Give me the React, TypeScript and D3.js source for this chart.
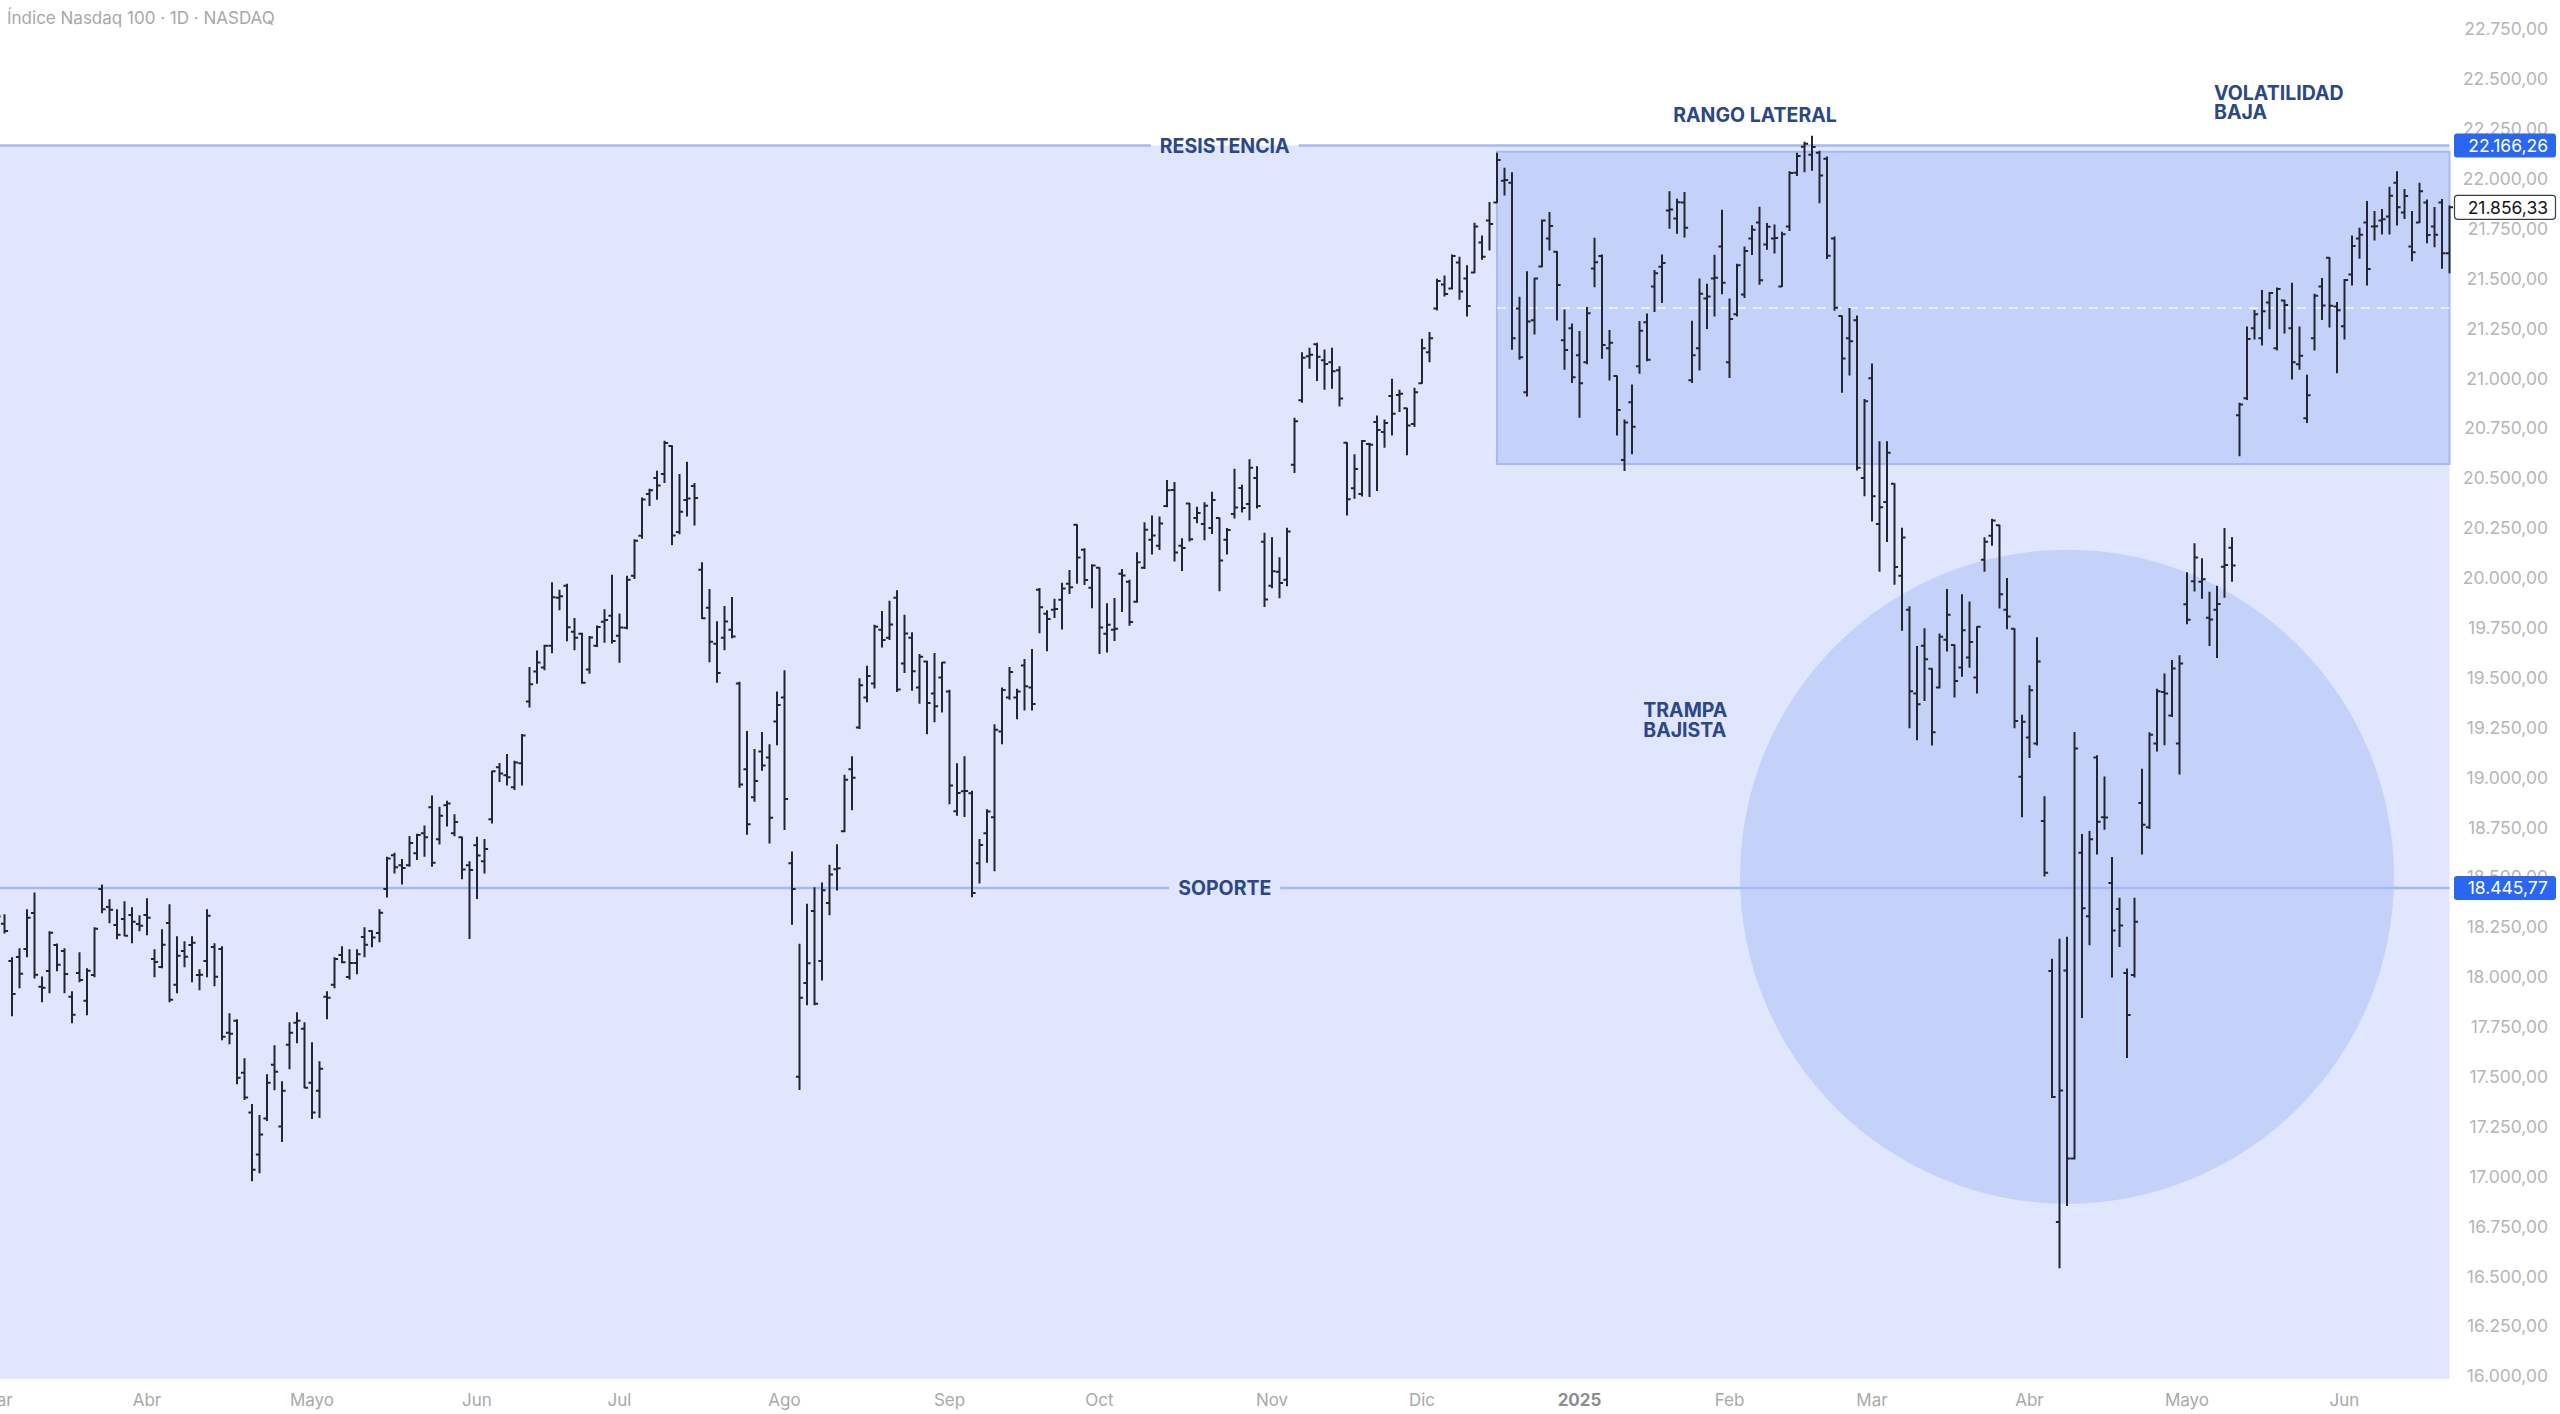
import React, { useMemo } from 'react';
import * as d3 from 'd3';

// ---------- data (daily OHLC, Índice Nasdaq 100) ----------
const title = 'Índice Nasdaq 100 · 1D · NASDAQ';

const mar24 = [
  [18050, 18310, 18010, 18302], [18266, 18311, 18220, 18230], [18080, 18096, 17805, 17914], [18100, 18141, 17945, 18016],
  [18140, 18336, 18101, 18296], [18320, 18421, 17995, 18011], [17950, 17999, 17875, 17945], [18030, 18226, 17920, 18221],
  [18160, 18165, 18031, 18061], [18130, 18141, 17920, 18015], [17900, 17925, 17770, 17810], [18020, 18121, 17976, 17985],
  [17880, 18041, 17810, 18031], [18010, 18246, 18001, 18241], [18440, 18461, 18321, 18339], [18350, 18386, 18271, 18336],
  [18260, 18336, 18191, 18211], [18290, 18376, 18206, 18206], [18310, 18346, 18171, 18276], [18265, 18306, 18231, 18256],
];
const apr24 = [
  [18310, 18391, 18211, 18296], [18090, 18136, 18001, 18075], [18050, 18236, 18046, 18161], [18270, 18361, 17875, 17885],
  [17960, 18201, 17920, 18106], [18130, 18176, 18051, 18101], [18160, 18201, 17976, 18171], [18010, 18036, 17935, 18011],
  [18080, 18336, 18001, 18306], [18150, 18166, 17955, 18001], [18140, 18151, 17685, 17700], [17720, 17815, 17665, 17715],
  [17780, 17785, 17465, 17495], [17520, 17590, 17385, 17395], [17320, 17360, 16978, 17034], [17110, 17305, 17019, 17210],
  [17290, 17510, 17280, 17470], [17560, 17655, 17435, 17525], [17250, 17475, 17175, 17430], [17660, 17770, 17540, 17720],
  [17770, 17820, 17670, 17780], [17740, 17770, 17445, 17445],
];
const may24 = [
  [17470, 17670, 17290, 17320], [17430, 17575, 17295, 17540], [17900, 17925, 17790, 17895], [17960, 18096, 17945, 18090],
  [18110, 18151, 18071, 18073], [18000, 18136, 17990, 18070], [18070, 18136, 18016, 18113], [18200, 18246, 18101, 18161],
  [18230, 18231, 18151, 18197], [18220, 18336, 18176, 18321], [18440, 18600, 18400, 18593], [18610, 18620, 18520, 18549],
  [18560, 18588, 18465, 18546], [18560, 18704, 18554, 18671], [18620, 18715, 18588, 18711], [18720, 18756, 18604, 18700],
  [18850, 18906, 18554, 18572], [18690, 18850, 18666, 18808], [18860, 18880, 18756, 18869], [18720, 18812, 18707, 18776],
  [18700, 18700, 18492, 18538], [18560, 18577, 18192, 18536],
];
const jun24 = [
  [18660, 18700, 18393, 18608], [18580, 18689, 18521, 18641], [18790, 19031, 18771, 19031], [19050, 19069, 18979, 19019],
  [19010, 19114, 18961, 19000], [18950, 19080, 18939, 19074], [19070, 19215, 18961, 19210], [19380, 19550, 19353, 19466],
  [19530, 19633, 19471, 19576], [19550, 19662, 19539, 19659], [19660, 19975, 19624, 19903], [19900, 19937, 19840, 19908],
  [19960, 19968, 19684, 19752], [19730, 19796, 19639, 19700], [19720, 19722, 19471, 19474], [19540, 19706, 19521, 19701],
  [19660, 19758, 19655, 19753], [19780, 19840, 19677, 19789], [19810, 20013, 19673, 19683],
];
const jul24 = [
  [19710, 19818, 19577, 19751], [19750, 20008, 19744, 19990], [20010, 20190, 19997, 20186], [20210, 20400, 20198, 20392],
  [20420, 20444, 20362, 20439], [20500, 20534, 20393, 20462], [20520, 20684, 20478, 20676], [20660, 20661, 20165, 20212],
  [20230, 20518, 20221, 20331], [20390, 20579, 20310, 20397], [20460, 20473, 20265, 20400], [20040, 20075, 19796, 19797],
  [19850, 19941, 19579, 19680], [19670, 19780, 19476, 19523], [19700, 19856, 19639, 19781], [19740, 19901, 19700, 19706],
  [19470, 19476, 18950, 18964], [19040, 19230, 18715, 18765], [18900, 19140, 18880, 18981], [19130, 19225, 19035, 19059],
  [19100, 19163, 18671, 18797], [19280, 19427, 19163, 19362],
];
const aug24 = [
  [19400, 19534, 18738, 18892], [18570, 18626, 18264, 18440], [17500, 18163, 17436, 17895], [17970, 18364, 17861, 18068],
  [18330, 18447, 17861, 17866], [18080, 18470, 17985, 18434], [18370, 18560, 18311, 18513], [18540, 18662, 18436, 18544],
  [18730, 19011, 18727, 18988], [19040, 19103, 18838, 18998], [19250, 19494, 19245, 19461], [19400, 19557, 19379, 19508],
  [19470, 19762, 19448, 19754], [19740, 19831, 19653, 19688], [19700, 19883, 19691, 19766], [19900, 19935, 19430, 19440],
  [19570, 19812, 19525, 19721], [19700, 19724, 19436, 19531], [19450, 19615, 19371, 19604], [19580, 19582, 19218, 19373],
  [19420, 19620, 19279, 19356], [19500, 19576, 19327, 19575],
];
const sep24 = [
  [19430, 19436, 18867, 18959], [18830, 19068, 18810, 18921], [18930, 19103, 18804, 18931], [18920, 18930, 18401, 18421],
  [18570, 18689, 18470, 18661], [18720, 18838, 18574, 18829], [18800, 19264, 18532, 19239], [19230, 19448, 19168, 19438],
  [19400, 19551, 19391, 19528], [19400, 19442, 19294, 19430], [19560, 19590, 19337, 19457], [19450, 19640, 19337, 19367],
  [19940, 19946, 19724, 19852], [19820, 19835, 19634, 19794], [19840, 19893, 19801, 19844], [19890, 19973, 19743, 19946],
  [19970, 20036, 19921, 19952], [20266, 20266, 19973, 20101], [20140, 20146, 19966, 19989], [19950, 20065, 19850, 20061],
];
const oct24 = [
  [20050, 20050, 19620, 19751], [19720, 19870, 19628, 19765], [19740, 19896, 19686, 19745], [20020, 20042, 19831, 20011],
  [19980, 19988, 19762, 19778], [19880, 20126, 19877, 20078], [20050, 20276, 20046, 20241], [20190, 20310, 20119, 20212],
  [20160, 20305, 20142, 20272], [20360, 20487, 20356, 20439], [20440, 20477, 20084, 20127], [20160, 20195, 20036, 20149],
  [20372, 20372, 20184, 20193], [20300, 20353, 20276, 20324], [20270, 20376, 20190, 20361], [20250, 20429, 20222, 20390],
  [20299, 20299, 19935, 20087], [20190, 20247, 20119, 20240], [20320, 20544, 20300, 20352], [20450, 20464, 20330, 20350],
  [20370, 20592, 20291, 20551], [20500, 20557, 20350, 20360], [20180, 20223, 19856, 19891],
];
const nov24 = [
  [19960, 20200, 19950, 20033], [20030, 20100, 19900, 19974], [19990, 20248, 19960, 20232], [20566, 20799, 20527, 20785],
  [20890, 21128, 20880, 21102], [21110, 21150, 21050, 21118], [21170, 21175, 20988, 21107], [21090, 21142, 20945, 21071],
  [21080, 21150, 20950, 21035], [21040, 21058, 20861, 20898], [20677, 20677, 20315, 20394], [20449, 20616, 20399, 20545],
  [20420, 20688, 20410, 20686], [20670, 20674, 20407, 20667], [20780, 20811, 20437, 20740], [20730, 20791, 20654, 20776],
  [20911, 20995, 20716, 20822], [20916, 20940, 20833, 20922], [20850, 20850, 20616, 20763], [20770, 20950, 20758, 20930],
];
const dec24 = [
  [20975, 21195, 20975, 21150], [21130, 21229, 21083, 21200], [21350, 21496, 21342, 21487], [21470, 21512, 21412, 21422],
  [21450, 21618, 21447, 21613], [21580, 21606, 21396, 21434], [21500, 21563, 21312, 21362], [21530, 21776, 21529, 21760],
  [21680, 21713, 21596, 21609], [21790, 21880, 21643, 21773], [21880, 22127, 21880, 22094], [21990, 22052, 21918, 21993],
  [21980, 22030, 21145, 21200], [21350, 21406, 21095, 21105], [20930, 21534, 20911, 21284], [21290, 21501, 21222, 21500],
  [21560, 21793, 21559, 21790], [21700, 21830, 21643, 21763], [21634, 21634, 21292, 21467], [21190, 21342, 21045, 21141],
  [21250, 21272, 20978, 21005],
];
const jan25 = [
  [21115, 21234, 20805, 20975], [21080, 21355, 21072, 21325], [21550, 21701, 21459, 21581], [21612, 21618, 21100, 21167],
  [21150, 21239, 20991, 21178], [21011, 21011, 20716, 20841], [20590, 20791, 20537, 20778], [20880, 20966, 20621, 20757],
  [21060, 21284, 21025, 21238], [21280, 21322, 21088, 21092], [21460, 21540, 21334, 21526], [21559, 21618, 21379, 21577],
  [21840, 21935, 21751, 21846], [21800, 21897, 21726, 21882], [21880, 21931, 21708, 21754], [20990, 21286, 20978, 21115],
  [21150, 21497, 21041, 21423], [21400, 21471, 21249, 21410], [21500, 21616, 21312, 21503], [21660, 21842, 21423, 21478],
];
const feb25 = [
  [21080, 21397, 21004, 21297], [21320, 21571, 21312, 21566], [21420, 21657, 21405, 21637], [21700, 21764, 21620, 21744],
  [21780, 21857, 21471, 21491], [21670, 21775, 21646, 21759], [21700, 21768, 21627, 21703], [21460, 21731, 21460, 21721],
  [21760, 22035, 21740, 22029], [22030, 22127, 22016, 22114], [22160, 22183, 22035, 22175], [22120, 22212, 22042, 22159],
  [22130, 22138, 21879, 22016], [22100, 22109, 21600, 21614], [21700, 21708, 21340, 21353], [21312, 21312, 20930, 21099],
  [21200, 21349, 21016, 21185], [21290, 21312, 20540, 20551], [20500, 20893, 20411, 20884],
];
const mar25 = [
  [21000, 21071, 20285, 20408], [20270, 20682, 20033, 20354], [20380, 20682, 20182, 20627], [20471, 20471, 19967, 20054],
  [20010, 20248, 19737, 20202], [19840, 19855, 19248, 19431], [19420, 19655, 19188, 19366], [19660, 19744, 19385, 19592],
  [19544, 19544, 19162, 19226], [19450, 19718, 19448, 19705], [19690, 19941, 19633, 19815], [19663, 19663, 19403, 19483],
  [19550, 19915, 19507, 19737], [19600, 19878, 19552, 19678], [19500, 19755, 19422, 19754], [20090, 20200, 20033, 20180],
  [20210, 20293, 20163, 20287], [20263, 20263, 19848, 19917], [19840, 19996, 19744, 19806], [19744, 19744, 19248, 19282],
  [19003, 19311, 18803, 19279],
];
const apr25 = [
  [19200, 19459, 19099, 19436], [19170, 19700, 19162, 19581], [18781, 18903, 18506, 18522], [18030, 18088, 17395, 17398],
  [16772, 18188, 16542, 17431], [18032, 18199, 16854, 17090], [17090, 19225, 17087, 19145], [18622, 18713, 17797, 18344],
  [18304, 18729, 18161, 18690], [19100, 19108, 18616, 18778], [18800, 19002, 18740, 18799], [18470, 18598, 17999, 18233],
  [18340, 18394, 18152, 18258], [18020, 18039, 17596, 17809], [18010, 18394, 17999, 18276], [18871, 19041, 18616, 18762],
  [18750, 19223, 18744, 19214], [19170, 19442, 19132, 19432], [19427, 19518, 19163, 19420], [19310, 19585, 19305, 19546],
  [19169, 19609, 19017, 19571],
];
const may25 = [
  [19867, 20025, 19770, 19790], [19982, 20171, 19934, 20102], [19980, 20095, 19897, 19992], [19800, 19928, 19661, 19791],
  [19840, 19958, 19600, 19868], [20055, 20247, 19903, 20064], [20150, 20201, 19982, 20061], [20814, 20875, 20611, 20868],
  [20900, 21257, 20893, 21196], [21250, 21339, 21197, 21320], [21200, 21440, 21166, 21335], [21380, 21430, 21248, 21427],
  [21150, 21452, 21142, 21447], [21390, 21391, 21227, 21367], [21250, 21476, 20996, 21080], [21070, 21257, 21045, 21112],
  [20800, 21015, 20778, 20915], [21200, 21421, 21142, 21413], [21460, 21500, 21294, 21364], [21604, 21604, 21257, 21363],
  [21360, 21379, 21027, 21341],
];
const jun25 = [
  [21260, 21495, 21197, 21492], [21520, 21713, 21467, 21663], [21700, 21751, 21601, 21719], [21780, 21885, 21467, 21547],
  [21760, 21835, 21693, 21762], [21790, 21846, 21723, 21797], [21810, 21957, 21723, 21914], [21980, 22035, 21768, 21857],
  [21830, 21946, 21801, 21913], [21660, 21835, 21589, 21631], [21780, 21977, 21780, 21937], [21880, 21893, 21679, 21718],
  [21760, 21856, 21659, 21719], [21880, 21896, 21551, 21626], [21626, 21863, 21529, 21856.33],
];

const monthBars = [mar24, apr24, may24, jun24, jul24, aug24, sep24, oct24, nov24, dec24, jan25, feb25, mar25, apr25, may25, jun25];
const monthLabels = ['Mar', 'Abr', 'Mayo', 'Jun', 'Jul', 'Ago', 'Sep', 'Oct', 'Nov', 'Dic', '2025', 'Feb', 'Mar', 'Abr', 'Mayo', 'Jun'];
const yearLabels = ['2025'];

const priceTicks = [16000, 16250, 16500, 16750, 17000, 17250, 17500, 17750, 18000, 18250, 18500, 18750, 19000, 19250,
  19500, 19750, 20000, 20250, 20500, 20750, 21000, 21250, 21500, 21750, 22000, 22250, 22500, 22750];

const resistance = 22166.26;
const support = 18445.77;
const lastPrice = 21856.33;

// range box: from bar index (Dec 16 2024) to last bar, price bounds
const rangeStartIdx = 200;
const rangeTop = 22135;
const rangeBottom = 20570;
// circle: centre bar index, centre price, radius in bars
const circleIdx = 276;
const circlePrice = 18502;
const circleRadiusBars = 43.6;

// annotations
const annResistencia = { text: 'RESISTENCIA', idx: 163.7 };
const annSoporte = { text: 'SOPORTE', idx: 163.7 };
const annRango = { lines: ['RANGO LATERAL'], idx: 234.4, price: 22285 };
const annVol = { lines: ['VOLATILIDAD', 'BAJA'], idx: 295.6, price: 22395 };
const annTrampa = { lines: ['TRAMPA', 'BAJISTA'], idx: 219.5, price: 19300 };

const FONT = "Inter, 'Noto Sans', 'Liberation Sans', sans-serif";
const NAVY = '#2b4784';
const LINE = '#a6b9f1';
const FILL_LIGHT = '#dfe6fd';
const FILL_DARK = '#c4d2fa';
const ANN_SIZE = 19.5;

function measure(text: string, font: string): number {
  if (typeof document === 'undefined') return text.length * 10;
  const c = document.createElement('canvas');
  const ctx = c.getContext('2d');
  if (!ctx) return text.length * 10;
  ctx.font = font;
  return ctx.measureText(text).width;
}

export default function App() {
  const W = 2560;
  const H = 1414;
  const plotRight = 2449.5;
  const plotBottom = 1379;

  const bars = useMemo(() => monthBars.flat().map((b, i) => ({ i, o: b[0], h: b[1], l: b[2], c: b[3] })), []);
  const monthStarts = useMemo(() => {
    const s: number[] = [];
    let acc = 0;
    monthBars.forEach((m) => { s.push(acc); acc += m.length; });
    return s;
  }, []);

  const x = d3.scaleLinear().domain([0, bars.length - 1]).range([-3, plotRight]);
  const y = d3.scaleLinear().domain([16000, 22750]).range([1376, 29]);
  const fmt = d3.formatLocale({ decimal: ',', thousands: '.', grouping: [3], currency: ['', ''] }).format(',.2f');

  const tick = 3.6;
  const barPath = bars.map((b) => {
    const bx = x(b.i);
    return `M${bx},${y(b.h) - 0.5}V${y(b.l) + 0.5}M${bx - tick},${y(b.o)}H${bx}M${bx},${y(b.c)}H${bx + tick}`;
  }).join('');

  const annFont = `bold ${ANN_SIZE}px ${FONT}`;
  const gapPad = 9;
  const wRes = measure(annResistencia.text, annFont);
  const wSop = measure(annSoporte.text, annFont);
  const cxRes = x(annResistencia.idx);
  const cxSop = x(annSoporte.idx);
  const yRes = y(resistance);
  const ySup = y(support);

  const rx0 = x(rangeStartIdx);
  const rx1 = x(bars.length - 1);
  const ry0 = y(rangeTop);
  const ry1 = y(rangeBottom);
  const rMid = y((rangeTop + rangeBottom) / 2);

  const ccx = x(circleIdx);
  const ccy = y(circlePrice);
  const cr = x(circleIdx + circleRadiusBars) - x(circleIdx);

  const labelX0 = 2454;
  const labelW = 102;
  const labelTextX = 2548;

  const renderLines = (a: { lines: string[]; idx: number; price: number }, anchor: 'start' | 'middle') => (
    <text x={x(a.idx)} y={y(a.price)} textAnchor={anchor} fill={NAVY} fontFamily={FONT} fontWeight={700} fontSize={ANN_SIZE}>
      {a.lines.map((t, k) => (
        <tspan key={k} x={x(a.idx)} dy={k === 0 ? 0 : 19.5}>{t}</tspan>
      ))}
    </text>
  );

  return (
    <svg width={W} height={H} viewBox={`0 0 ${W} ${H}`}
      style={{ position: 'absolute', left: 0, top: 0, display: 'block', background: '#ffffff' }}>
      <rect x={0} y={0} width={W} height={H} fill="#ffffff" />
      <text x={7} y={24} fontFamily={FONT} fontSize={17} fill="#a7a7a7">{title}</text>

      {/* shaded area below resistance */}
      <rect x={0} y={yRes} width={plotRight} height={plotBottom - yRes} fill={FILL_LIGHT} />
      {/* range box */}
      <rect x={rx0} y={ry0} width={rx1 - rx0} height={ry1 - ry0} fill={FILL_DARK} stroke={LINE} strokeWidth={2} />
      <line x1={rx0} x2={rx1} y1={rMid} y2={rMid} stroke="#ffffff" strokeOpacity={0.85} strokeWidth={1.5} strokeDasharray="9 7" />
      {/* circle */}
      <circle cx={ccx} cy={ccy} r={cr} fill={FILL_DARK} />

      {/* resistance & support lines with gaps for labels */}
      <line x1={0} x2={cxRes - wRes / 2 - gapPad} y1={yRes} y2={yRes} stroke={LINE} strokeWidth={2.5} />
      <line x1={cxRes + wRes / 2 + gapPad} x2={plotRight} y1={yRes} y2={yRes} stroke={LINE} strokeWidth={2.5} />
      <line x1={0} x2={cxSop - wSop / 2 - gapPad} y1={ySup} y2={ySup} stroke={LINE} strokeWidth={2.5} />
      <line x1={cxSop + wSop / 2 + gapPad} x2={plotRight} y1={ySup} y2={ySup} stroke={LINE} strokeWidth={2.5} />
      <text x={cxRes} y={yRes} dy="0.36em" textAnchor="middle" fill={NAVY} fontFamily={FONT} fontWeight={700} fontSize={ANN_SIZE}>{annResistencia.text}</text>
      <text x={cxSop} y={ySup} dy="0.36em" textAnchor="middle" fill={NAVY} fontFamily={FONT} fontWeight={700} fontSize={ANN_SIZE}>{annSoporte.text}</text>

      {renderLines(annRango, 'middle')}
      {renderLines(annVol, 'start')}
      {renderLines(annTrampa, 'start')}

      {/* OHLC bars */}
      <path d={barPath} stroke="#23262f" strokeWidth={2} fill="none" />

      {/* price axis */}
      {priceTicks.map((p) => (
        <text key={p} x={labelTextX} y={y(p)} dy="0.36em" textAnchor="end" fontFamily={FONT} fontSize={17.5} fill="#b5b5b5">{fmt(p)}</text>
      ))}

      {/* month axis */}
      {monthLabels.map((m, k) => {
        const isYear = yearLabels.includes(m);
        return (
          <text key={k} x={x(monthStarts[k])} y={1406} textAnchor="middle" fontFamily={FONT} fontSize={17}
            fontWeight={isYear ? 700 : 400} fill={isYear ? '#8d8d8d' : '#a9a9a9'}>{m}</text>
        );
      })}

      {/* price labels */}
      <rect x={labelX0} y={yRes - 12} width={labelW} height={24} rx={3} fill="#2a66f2" />
      <text x={labelTextX} y={yRes} dy="0.36em" textAnchor="end" fontFamily={FONT} fontSize={17.5} fill="#ffffff">{fmt(resistance)}</text>
      <rect x={labelX0} y={ySup - 12} width={labelW} height={24} rx={3} fill="#2a66f2" />
      <text x={labelTextX} y={ySup} dy="0.36em" textAnchor="end" fontFamily={FONT} fontSize={17.5} fill="#ffffff">{fmt(support)}</text>
      <rect x={labelX0 + 0.5} y={y(lastPrice) - 12} width={labelW - 1} height={24} rx={3} fill="#ffffff" stroke="#3a3d45" strokeWidth={1.2} />
      <text x={labelTextX} y={y(lastPrice)} dy="0.36em" textAnchor="end" fontFamily={FONT} fontSize={17.5} fill="#131722">{fmt(lastPrice)}</text>
    </svg>
  );
}
